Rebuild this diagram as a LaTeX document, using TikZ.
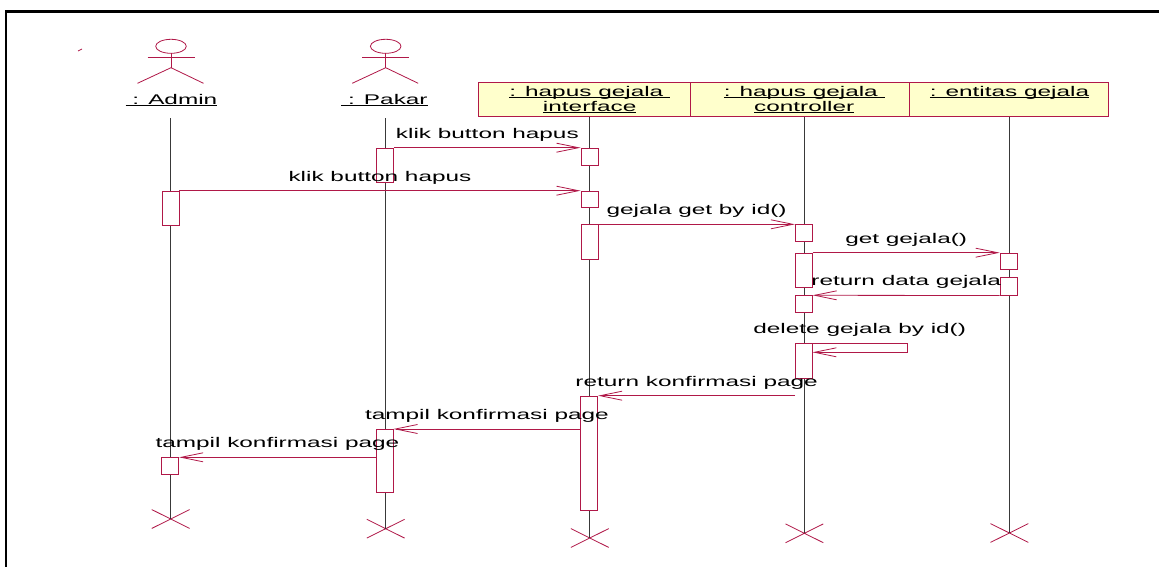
\documentclass[tikz,border=0pt]{standalone}
\usepackage{fontspec}
\setmainfont{Liberation Sans}[FakeStretch=1.74]
\usetikzlibrary{arrows.meta,shapes.misc}

\definecolor{umlred}{RGB}{176,24,72}
\definecolor{umlfill}{RGB}{255,255,204}
\newcommand{\uname}[1]{\setbox0\hbox{#1}\rlap{\rule[-1.2pt]{\wd0}{0.8pt}}\box0}

\tikzset{
  act/.style={draw=umlred, fill=white, line width=0.8pt, minimum width=17pt, inner sep=0pt, anchor=north},
  msg/.style={umlred, line width=0.8pt, -{Straight Barb[length=22pt,width=9pt]}},
  msgtxt/.style={midway, anchor=base, yshift=9.5pt, text=black, inner sep=0pt},
  life/.style={gray!45!black, line width=0.9pt},
  killmark/.style={draw=umlred, cross out, line width=0.8pt, minimum width=37pt, minimum height=18pt, inner sep=0pt},
  objbox/.style={draw=umlred, fill=umlfill, line width=0.8pt, inner sep=0pt},
  pics/umlactor/.style={code={
    \draw[umlred, line width=0.8pt] (0,0) ellipse [x radius=15.3, y radius=7];
    \draw[umlred, line width=0.8pt] (-23.5,11) -- (23.5,11);
    \draw[umlred, line width=0.8pt] (0,7) -- (0,21.4);
    \draw[umlred, line width=0.8pt] (-33.5,37) -- (0,21.4) -- (32.5,37);
  }}
}

\begin{document}
\begin{tikzpicture}[x=1pt, y=-1pt, font=\fontsize{14}{15}\selectfont]
\useasboundingbox (0,0) rectangle (1159,567);
\fill[white] (0,0) rectangle (1159,567);
\draw[line width=2.5pt] (6,567) -- (6,11.5) -- (1159,11.5);
\draw[umlred, line width=0.8pt] (78,51) -- (82,49);

% actors
\pic at (171,46.3) {umlactor};
\pic at (385.7,46.3) {umlactor};
\node[anchor=base, inner sep=0pt] (adlbl) at (171.5,104.3) {\uname{\ : Admin}};
\node[anchor=base, inner sep=0pt] (pklbl) at (384.5,104.3) {\uname{\ : Pakar}};

% objects
\node[objbox, minimum width=211.7pt, minimum height=34pt] (ifbox) at (584.25,99.7) {};
\node[objbox, minimum width=218.9pt, minimum height=34pt] (ctbox) at (799.55,99.7) {};
\node[objbox, minimum width=199.8pt, minimum height=34pt] (enbox) at (1008.9,99.7) {};
\node[anchor=base, align=center, inner sep=0pt] (iftxt) at (589.7,111.7) {\uname{: hapus gejala\ }\\\uname{interface}};
\node[anchor=base, align=center, inner sep=0pt] (cttxt) at (804.2,111.7) {\uname{: hapus gejala\ }\\\uname{controller}};
\node[anchor=base, inner sep=0pt] (entxt) at (1009.5,96.7) {\uname{: entitas gejala}};

% end marks
\node[killmark] (adx) at (170.7,519) {};
\node[killmark] (pkx) at (385.7,528.7) {};
\node[killmark] (ifx) at (589.8,538) {};
\node[killmark] (ctx) at (804.4,533.3) {};
\node[killmark] (enx) at (1009.4,533) {};

% lifelines
\coordinate (ad0) at (170.7,118.3);
\coordinate (pk0) at (385.7,118.3);
\draw[life] (ad0) -- (adx.center);
\draw[life] (pk0) -- (pkx.center);
\draw[life] (ifx.center |- ifbox.south) -- (ifx.center);
\draw[life] (ctx.center |- ctbox.south) -- (ctx.center);
\draw[life] (enx.center |- enbox.south) -- (enx.center);

% activations
\node[act, minimum height=34.6pt] (ad1) at (170.5,190.7) {};
\node[act, minimum height=17pt] (ad2) at (170.2,457.3) {};
\node[act, minimum height=34.6pt] (pk1) at (385.3,147.7) {};
\node[act, minimum height=63.3pt] (pk2) at (384.6,429) {};
\node[act, minimum height=17pt] (if1) at (589.4,147.7) {};
\node[act, minimum height=16.6pt] (if2) at (589.4,190.7) {};
\node[act, minimum height=34.4pt] (if3) at (589.4,224.3) {};
\node[act, minimum height=114.6pt] (if4) at (589.2,395.7) {};
\node[act, minimum height=16.7pt] (ct1) at (803.8,224.3) {};
\node[act, minimum height=34.6pt] (ct2) at (803.8,252.7) {};
\node[act, minimum height=17pt] (ct3) at (803.8,295.3) {};
\node[act, minimum height=34.7pt] (ct4) at (803.5,343.3) {};
\node[act, minimum height=16.6pt] (en1) at (1008.6,252.7) {};
\node[act, minimum height=17.4pt] (en2) at (1008.6,277.3) {};

% messages
\draw[msg] (pk1.north east) -- node[msgtxt] {klik button hapus} (if1.north west);
\draw[msg] (ad1.north east) -- node[msgtxt] {klik button hapus} (if2.north west);
\draw[msg] (if3.north east) -- node[msgtxt] {gejala get by id()} (ct1.north west);
\draw[msg] (ct2.north east) -- node[msgtxt] {get gejala()} (en1.north west);
\draw[msg] (en2.south west) -- node[msgtxt] {return data gejala} (ct3.north east);
\draw[msg] (ct4.north east) -- node[msgtxt] {delete gejala by id()} ++(94.6,0) -- ++(0,9) -- ([yshift=-9pt]ct4.north east);
\coordinate (ct5) at (795.2,395.7);
\draw[msg] (ct5) -- node[msgtxt] {return konfirmasi page} (if4.north east);
\draw[msg] (if4.west |- pk2.north) -- node[msgtxt] {tampil konfirmasi page} (pk2.north east);
\draw[msg] (pk2.west |- ad2.north) -- node[msgtxt] {tampil konfirmasi page} (ad2.north east);
\end{tikzpicture}
\end{document}
